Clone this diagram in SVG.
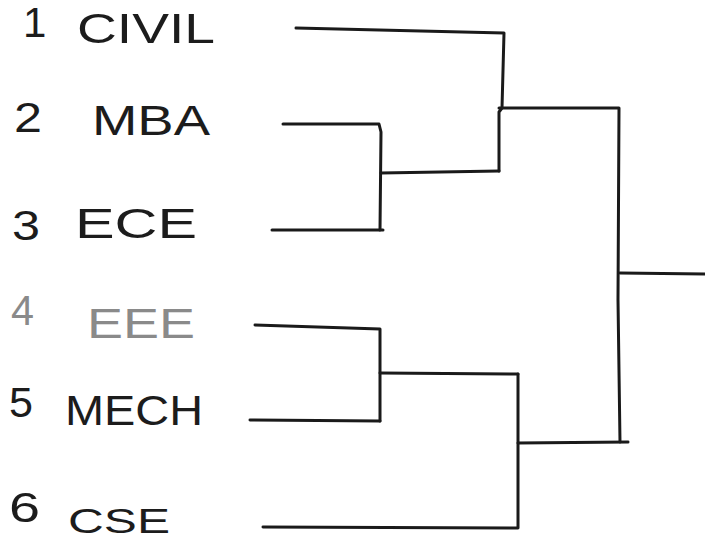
<svg xmlns="http://www.w3.org/2000/svg" width="705" height="541" viewBox="0 0 705 541">
  <style>
    .bg { fill: #ffffff; }
    .lbl { font-family: "Liberation Sans", Arial, sans-serif; font-size: 42px; fill: #1c1c1c; }
    .num { font-family: "Liberation Sans", Arial, sans-serif; font-size: 42px; fill: #1c1c1c; }
    .small { font-size: 35px; }
    .faint { fill: #8a8a8a; }
    .wire { fill: none; stroke: #1a1a1a; stroke-width: 3; stroke-linecap: round; stroke-linejoin: round; }
  </style>
  <rect class="bg" x="0" y="0" width="705" height="541"/>

  <g id="team-1">
    <text class="num" x="23" y="37">1</text>
    <text class="lbl" x="77" y="43" textLength="138" lengthAdjust="spacingAndGlyphs">CIVIL</text>
  </g>
  <g id="team-2">
    <text class="num" x="14" y="132" textLength="28" lengthAdjust="spacingAndGlyphs">2</text>
    <text class="lbl" x="92" y="135" textLength="118" lengthAdjust="spacingAndGlyphs">MBA</text>
  </g>
  <g id="team-3">
    <text class="num" x="12" y="240" textLength="28" lengthAdjust="spacingAndGlyphs">3</text>
    <text class="lbl" x="75" y="238" textLength="122" lengthAdjust="spacingAndGlyphs">ECE</text>
  </g>
  <g id="team-4">
    <text class="num faint" x="11" y="325" textLength="23" lengthAdjust="spacingAndGlyphs">4</text>
    <text class="lbl faint" x="87" y="338" textLength="108" lengthAdjust="spacingAndGlyphs">EEE</text>
  </g>
  <g id="team-5">
    <text class="num" x="9" y="417" textLength="24" lengthAdjust="spacingAndGlyphs">5</text>
    <text class="lbl" x="65" y="425" textLength="138" lengthAdjust="spacingAndGlyphs">MECH</text>
  </g>
  <g id="team-6">
    <text class="num" x="9" y="522" textLength="31" lengthAdjust="spacingAndGlyphs">6</text>
    <text class="lbl small" x="68" y="533" textLength="102" lengthAdjust="spacingAndGlyphs">CSE</text>
  </g>

  <g id="connectors">
    <!-- round 1 -->
    <path class="wire" d="M296,28 L504,33 L502,108 L499,112 L499,171"/>
    <path class="wire" d="M283,124 L379,124 L381,132 L380,230"/>
    <path class="wire" d="M272,230 L383,230"/>
    <path class="wire" d="M381,173 L499,171"/>
    <path class="wire" d="M255,325 L380,329 L380,421"/>
    <path class="wire" d="M250,420 L380,421"/>
    <path class="wire" d="M380,373 L518,374"/>
    <path class="wire" d="M263,527 L518,528 L518,374"/>
    <!-- semifinal -->
    <path class="wire" d="M499,108 L619,108 L618,300 L620,442"/>
    <path class="wire" d="M518,443 L628,442"/>
    <!-- final -->
    <path class="wire" d="M620,273 L705,274"/>
  </g>
</svg>
